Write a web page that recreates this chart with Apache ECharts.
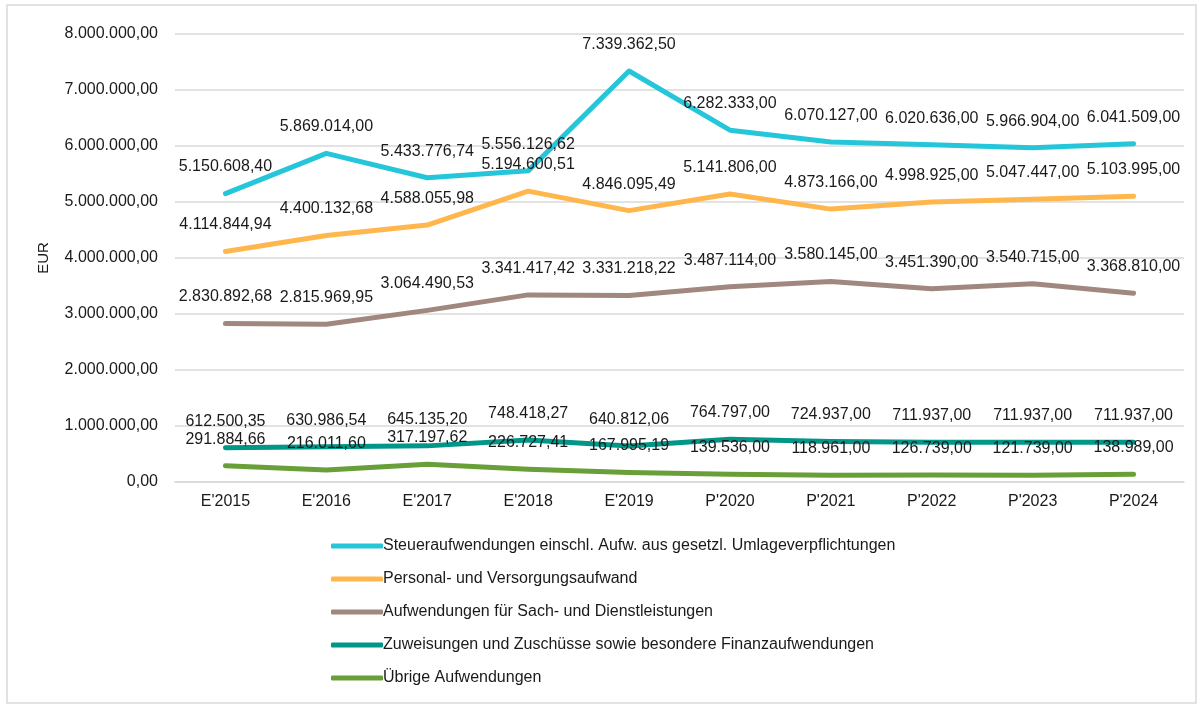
<!DOCTYPE html>
<html>
<head>
<meta charset="utf-8">
<script src="https://cdn.jsdelivr.net/npm/echarts@6/dist/echarts.min.js"></script>
<style>
  html, body { margin: 0; padding: 0; background: #fff; }
  #chart { width: 1203px; height: 704px; }
</style>
</head>
<body>
<div id="chart"></div>
<script>
// Kategorien (E = Ergebnis, P = Plan)
var years = ["E'2015", "E'2016", "E'2017", "E'2018", "E'2019", "P'2020", "P'2021", "P'2022", "P'2023", "P'2024"];

// Reihen
var steuer = [5150608.40, 5869014.00, 5433776.74, 5556126.62, 7339362.50, 6282333.00, 6070127.00, 6020636.00, 5966904.00, 6041509.00];
var personal = [4114844.94, 4400132.68, 4588055.98, 5194600.51, 4846095.49, 5141806.00, 4873166.00, 4998925.00, 5047447.00, 5103995.00];
var sach = [2830892.68, 2815969.95, 3064490.53, 3341417.42, 3331218.22, 3487114.00, 3580145.00, 3451390.00, 3540715.00, 3368810.00];
var zuweisungen = [612500.35, 630986.54, 645135.20, 748418.27, 640812.06, 764797.00, 724937.00, 711937.00, 711937.00, 711937.00];
var uebrige = [291884.66, 216011.60, 317197.62, 226727.41, 167995.19, 139536.00, 118961.00, 126739.00, 121739.00, 138989.00];

var names = [
  'Steueraufwendungen einschl. Aufw. aus gesetzl. Umlageverpflichtungen',
  'Personal- und Versorgungsaufwand',
  'Aufwendungen für Sach- und Dienstleistungen',
  'Zuweisungen und Zuschüsse sowie besondere Finanzaufwendungen',
  'Übrige Aufwendungen'
];
var colors = ['#26C6DA', '#FFB74D', '#A1887F', '#009688', '#689F38'];

// 1234567.8 -> "1.234.567,80"
function fmtDE(v) {
  var s = Number(v).toFixed(2);
  var parts = s.split('.');
  var int = parts[0].replace(/\B(?=(\d{3})+(?!\d))/g, '.');
  return int + ',' + parts[1];
}

var font = 'Liberation Sans, Arial, sans-serif';

function mkSeries(name, data, color) {
  return {
    name: name,
    type: 'line',
    data: data,
    symbol: 'circle',
    symbolSize: 1,
    itemStyle: { color: color },
    lineStyle: { width: 5, color: color, cap: 'round', join: 'round' },
    label: {
      show: true,
      position: 'top',
      distance: 18,
      color: '#1a1a1a',
      fontFamily: font,
      fontSize: 16,
      formatter: function (p) { return fmtDE(p.value); }
    },
    emphasis: { disabled: true }
  };
}

var chart = echarts.init(document.getElementById('chart'));
chart.setOption({
  backgroundColor: '#fff',
  animation: false,
  color: colors,
  graphic: [{
    type: 'rect',
    shape: { x: 7, y: 5, width: 1189, height: 698 },
    style: { fill: 'none', stroke: '#d9d9d9', lineWidth: 1.5 },
    silent: true
  }],
  grid: { left: 175, right: 19, top: 34, bottom: 222 },
  legend: {
    orient: 'vertical',
    left: 326,
    top: 533,
    itemWidth: 52,
    itemHeight: 5,
    itemGap: 17,
    icon: 'roundRect',
    data: names,
    textStyle: { fontFamily: font, fontSize: 16, color: '#1a1a1a', padding: [0, 0, 0, -5] }
  },
  xAxis: {
    type: 'category',
    data: years,
    boundaryGap: true,
    axisLine: { lineStyle: { color: '#d9d9d9', width: 1.5 } },
    axisTick: { show: false },
    axisLabel: { fontFamily: font, fontSize: 16, color: '#1a1a1a', margin: 12 }
  },
  yAxis: {
    type: 'value',
    min: 0,
    max: 8000000,
    interval: 1000000,
    name: 'EUR',
    nameLocation: 'middle',
    nameGap: 124,
    nameRotate: 90,
    nameTextStyle: { fontFamily: font, fontSize: 15, color: '#1a1a1a' },
    axisLine: { show: false },
    axisTick: { show: false },
    splitLine: { lineStyle: { color: '#d9d9d9', width: 1.5 } },
    axisLabel: {
      fontFamily: font, fontSize: 16, color: '#1a1a1a', margin: 17,
      formatter: function (v) { return fmtDE(v); }
    }
  },
  series: [
    mkSeries(names[0], steuer, colors[0]),
    mkSeries(names[1], personal, colors[1]),
    mkSeries(names[2], sach, colors[2]),
    mkSeries(names[3], zuweisungen, colors[3]),
    mkSeries(names[4], uebrige, colors[4])
  ]
});
</script>
</body>
</html>
